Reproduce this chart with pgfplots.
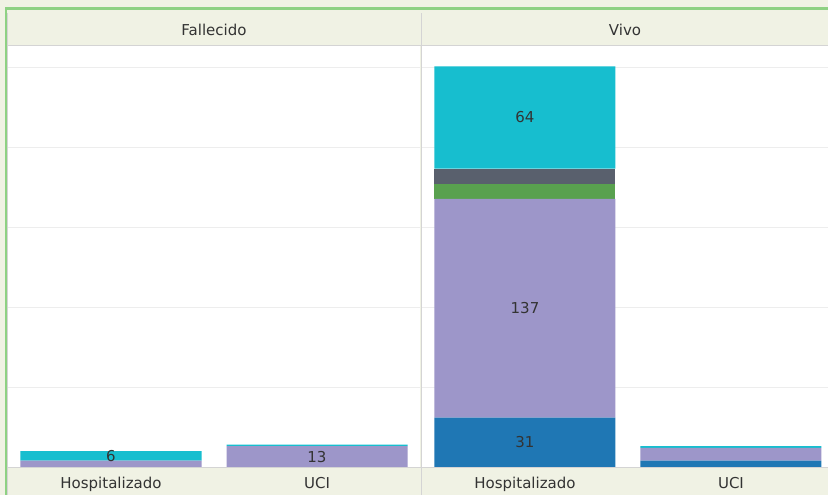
\documentclass[border=0pt]{standalone}
\usepackage{pgfplots}
\pgfplotsset{compat=1.18}
\usepackage{fontspec}
\setmainfont{DejaVu Sans}

\definecolor{hdr}{HTML}{F0F2E4}
\definecolor{grn}{HTML}{8ED183}
\definecolor{divc}{HTML}{D4D4D4}
\definecolor{gridc}{HTML}{EDEDED}
\definecolor{txt}{HTML}{333333}
\definecolor{cblue}{HTML}{1F77B4}
\definecolor{cpurple}{HTML}{9D96C9}
\definecolor{cgreen}{HTML}{59A14F}
\definecolor{cgray}{HTML}{59606D}
\definecolor{ccyan}{HTML}{17BECF}

\pgfplotsset{
  panel/.style={
    ybar stacked, scale only axis, height=421pt,
    ymin=0, ymax=263.75, xmin=-0.5,
    bar width=181pt,
    axis line style={draw=none}, tick style={draw=none},
    ytick={50,100,150,200,250}, yticklabels={},
    ymajorgrids, grid style={gridc, line width=1pt},
    xtick={0,1}, xticklabels={Hospitalizado,UCI},
    xticklabel style={font=\fontsize{15}{17}\selectfont, text=txt, anchor=north, inner sep=0pt, yshift=-10pt},
    title style={font=\fontsize{15}{17}\selectfont, text=txt, at={(0.5,1)}, anchor=center, yshift=10pt},
    point meta=explicit symbolic,
    nodes near coords,
    every node near coord/.append style={font=\fontsize{15}{17}\selectfont, text=txt, anchor=center},
  },
  seg/.style={fill=#1, draw=none},
}

\begin{document}
\begin{tikzpicture}[x=1pt,y=1pt]
\useasboundingbox (0,0) rectangle (828,495);
\fill[hdr] (0,0) rectangle (828,495);
\fill[white] (8,28) rectangle (420,449);
\fill[white] (422,28) rectangle (828,449);
\fill[grn] (5,485) rectangle (828,488);
\fill[grn] (5,0) rectangle (7,488);
\fill[divc] (7,0) rectangle (8,482);
\fill[divc] (420.5,0) rectangle (422,482);
\draw[divc, line width=1pt] (8,449.5) -- (828,449.5);
\draw[divc, line width=1pt] (8,27.5) -- (828,27.5);

\begin{axis}[panel, at={(8pt,28pt)}, anchor=south west, width=412pt, xmax=1.5, title={Fallecido}]
\addplot[seg=cblue] coordinates {(0,0) [] (1,0) []};
\addplot[seg=cpurple] coordinates {(0,4) [] (1,13) [13]};
\addplot[seg=cgreen] coordinates {(0,0) [] (1,0) []};
\addplot[seg=cgray] coordinates {(0,0) [] (1,0) []};
\addplot[seg=ccyan] coordinates {(0,6) [6] (1,1) []};
\end{axis}

\begin{axis}[panel, at={(422pt,28pt)}, anchor=south west, width=406pt, xmax=1.471, title={Vivo}]
\addplot[seg=cblue] coordinates {(0,31) [31] (1,4) []};
\addplot[seg=cpurple] coordinates {(0,137) [137] (1,8) []};
\addplot[seg=cgreen] coordinates {(0,9) [] (1,0) []};
\addplot[seg=cgray] coordinates {(0,10) [] (1,0) []};
\addplot[seg=ccyan] coordinates {(0,64) [64] (1,1) []};
\end{axis}
\end{tikzpicture}
\end{document}
